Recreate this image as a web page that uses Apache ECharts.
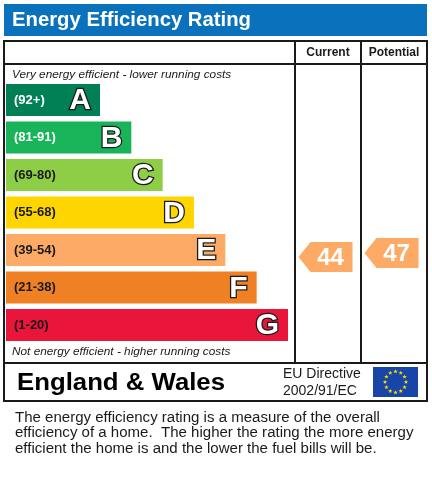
<!DOCTYPE html>
<html><head><meta charset="utf-8">
<script src="https://cdn.jsdelivr.net/npm/echarts@6/dist/echarts.min.js"></script>
<style>html,body{margin:0;padding:0;background:#fff}#c{width:432px;height:480px}</style>
</head><body><div id="c"></div>
<script>
// ---- data ----
const bands = ['A','B','C','D','E','F','G'];
const ranges = ['(92+)','(81-91)','(69-80)','(55-68)','(39-54)','(21-38)','(1-20)'];
const bandMin = [92,81,69,55,39,21,1];
const barLengths = [3,4,5,6,7,8,9];
const bandColors = ['#008054','#19b459','#8dce46','#ffd500','#fcaa65','#ef8023','#e9153b'];
const rangeTextColors = ['#ffffff','#ffffff','#1a1a1a','#1a1a1a','#1a1a1a','#1a1a1a','#1a1a1a'];
const columns = ['Current','Potential'];
const ratings = [44,47];

const FONT = '"Liberation Sans", Arial, sans-serif';
function bandIndex(v){ for(let i=0;i<bandMin.length;i++){ if(v>=bandMin[i]) return i; } return bandMin.length-1; }
function starPts(cx,cy,r){ const p=[]; for(let k=0;k<10;k++){ const a=-Math.PI/2+k*Math.PI/5; const rr=k%2? r*0.42 : r; p.push([cx+rr*Math.cos(a), cy+rr*Math.sin(a)]); } return p; }

const chart = echarts.init(document.getElementById('c'), null, {renderer:'canvas'});

const flagStars = [];
for(let i=0;i<12;i++){
  const a = i*Math.PI/6;
  flagStars.push({type:'polygon', shape:{points:starPts(395.5+10.5*Math.cos(a), 382+10.5*Math.sin(a), 2.3)}, style:{fill:'#ffdd00'}, z:12});
}

const line = (x1,y1,x2,y2)=>({type:'line', shape:{x1,y1,x2,y2}, style:{stroke:'#1a1a1a', lineWidth:2}, z:11});
const txt = (x,y,t,font,extra,sx)=>({type:'text', x, y, scaleX:sx||1, style:Object.assign({text:t, font:font, fill:'#1a1a1a', verticalAlign:'middle'}, extra||{}), z:11});

chart.setOption({
  backgroundColor:'#ffffff',
  animation:false,
  grid:[
    {left:6, width:282, top:81.25, height:262.5},
    {left:295, width:132, top:182.33, height:133.33}
  ],
  xAxis:[
    {type:'value', gridIndex:0, min:0, max:9, show:false},
    {type:'category', gridIndex:1, data:columns, position:'top', offset:129.33,
     axisLine:{show:false}, axisTick:{show:false}, splitLine:{show:false},
     axisLabel:{margin:0, verticalAlign:'middle', fontFamily:FONT, fontWeight:'bold', fontSize:12, color:'#1a1a1a'}}
  ],
  yAxis:[
    {type:'category', gridIndex:0, data:bands, inverse:true, show:false},
    {type:'value', gridIndex:1, min:0, max:100, show:false}
  ],
  series:[
    {type:'bar', xAxisIndex:0, yAxisIndex:0, barWidth:32, barGap:'-100%', silent:true,
     data: barLengths.map((v,i)=>({value:v, itemStyle:{color:bandColors[i]}, label:{color:rangeTextColors[i]}})),
     label:{show:true, position:'insideLeft', distance:8, fontFamily:FONT, fontWeight:'bold', fontSize:13,
            formatter:p=>ranges[p.dataIndex]}},
    {type:'bar', xAxisIndex:0, yAxisIndex:0, barWidth:32, barGap:'-100%', silent:true,
     data: barLengths.slice(), itemStyle:{color:'rgba(0,0,0,0)'},
     label:{show:true, position:'insideRight', distance:9, offset:[0,1], fontFamily:FONT, fontWeight:'bold', fontSize:30,
            color:'#ffffff', textBorderColor:'#1a1a1a', textBorderWidth:2.6,
            formatter:p=>bands[p.dataIndex]}},
    {type:'scatter', xAxisIndex:1, yAxisIndex:1, silent:true,
     symbol:'path://M0,15L12,0L54,0L54,30L12,30Z', symbolSize:[54,30], symbolOffset:[-2.5,0],
     data: ratings.map((v,i)=>({value:[i,v], itemStyle:{color:bandColors[bandIndex(v)], opacity:1}})),
     label:{show:true, position:'inside', offset:[5,1], fontFamily:FONT, fontWeight:'bold', fontSize:24, color:'#ffffff',
            formatter:p=>String(p.value[1])}}
  ],
  graphic:[
    {type:'rect', shape:{x:4, y:4, width:423, height:32}, style:{fill:'#0a72bd'}, z:10},
    txt(12, 20.5, 'Energy Efficiency Rating', 'bold 20.3px '+FONT, {fill:'#ffffff'}),
    {type:'rect', shape:{x:4, y:41, width:423, height:360}, style:{fill:'none', stroke:'#1a1a1a', lineWidth:2}, z:11},
    line(4,64,427,64),
    line(4,363,427,363),
    line(295,41,295,363),
    line(361,41,361,363),
    txt(12, 75, 'Very energy efficient - lower running costs', 'italic 11.8px '+FONT),
    txt(12, 352, 'Not energy efficient - higher running costs', 'italic 11.8px '+FONT),
    txt(17, 383.5, 'England & Wales', 'bold 23px '+FONT, {fill:'#000000'}, 1.12),
    txt(283, 374.5, 'EU Directive', '14px '+FONT),
    txt(283, 391.5, '2002/91/EC', '14px '+FONT),
    {type:'rect', shape:{x:373, y:367, width:45, height:30}, style:{fill:'#1846a8'}, z:11},
    ...flagStars,
    {type:'text', x:15, y:410, scaleX:1.074, style:{text:'The energy efficiency rating is a measure of the overall\nefficiency of a home.  The higher the rating the more energy\nefficient the home is and the lower the fuel bills will be.',
      font:'14px '+FONT, fill:'#1a1a1a', lineHeight:15.7, verticalAlign:'top'}, z:11}
  ]
});
</script></body></html>
